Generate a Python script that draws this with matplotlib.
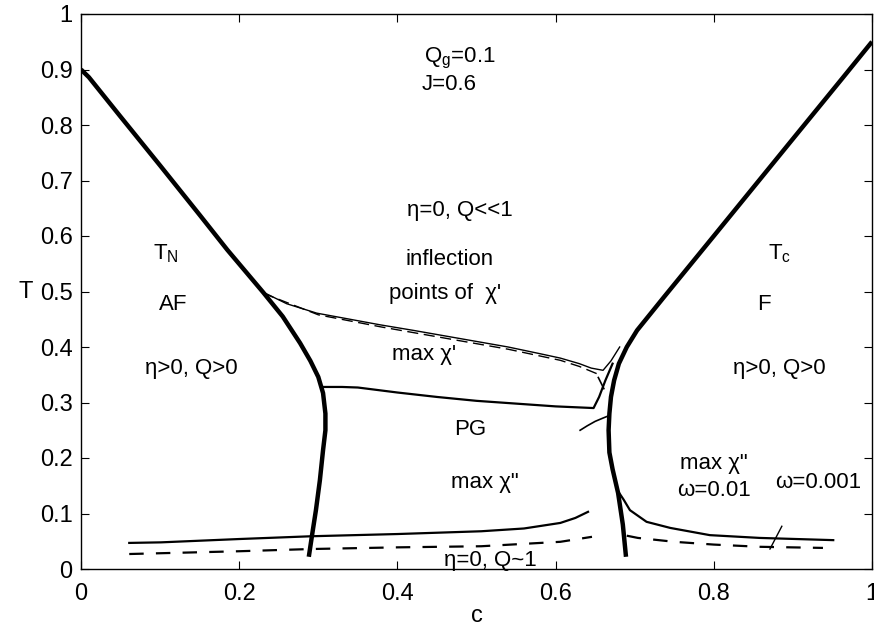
import matplotlib
matplotlib.use("Agg")
import matplotlib.pyplot as plt

plt.rcParams['font.family'] = ['Liberation Sans', 'DejaVu Sans']
plt.rcParams['mathtext.fontset'] = 'custom'
plt.rcParams['mathtext.rm'] = 'Liberation Sans'
plt.rcParams['mathtext.it'] = 'Liberation Sans'

# --- data ---
TN_c = [0.0, 0.01, 0.05, 0.10, 0.15, 0.185, 0.23, 0.255, 0.277, 0.29, 0.300, 0.306,
        0.309, 0.309, 0.306, 0.302, 0.297, 0.292, 0.288]
TN_T = [0.90, 0.886, 0.815, 0.727, 0.638, 0.575, 0.499, 0.455, 0.407, 0.375, 0.346, 0.317,
        0.28, 0.25, 0.214, 0.16, 0.106, 0.06, 0.022]

Tc_c = [0.689, 0.685, 0.679, 0.672, 0.668, 0.667, 0.668, 0.670, 0.674, 0.680, 0.690,
        0.703, 0.720, 0.737, 0.80, 0.90, 0.963, 1.0]
Tc_T = [0.022, 0.08, 0.137, 0.18, 0.21, 0.25, 0.28, 0.31, 0.34, 0.37, 0.40,
        0.43, 0.46, 0.49, 0.60, 0.775, 0.885, 0.95]

infl_c = [0.23, 0.26, 0.298, 0.34, 0.378, 0.42, 0.46, 0.50, 0.54, 0.58, 0.606, 0.63,
          0.645, 0.66, 0.67, 0.681]
infl_T = [0.499, 0.478, 0.461, 0.45, 0.44, 0.43, 0.42, 0.41, 0.40, 0.388, 0.38, 0.37,
          0.362, 0.358, 0.375, 0.40]
infl_d_c = [0.23, 0.30, 0.38, 0.46, 0.54, 0.606, 0.63, 0.652]
infl_d_T = [0.497, 0.458, 0.436, 0.416, 0.396, 0.376, 0.365, 0.352]

maxchi1_c = [0.306, 0.33, 0.35, 0.40, 0.45, 0.50, 0.55, 0.60, 0.648, 0.655, 0.663, 0.672]
maxchi1_T = [0.328, 0.328, 0.327, 0.318, 0.31, 0.303, 0.298, 0.293, 0.29, 0.31, 0.34, 0.37]
branch_c = [0.654, 0.661]
branch_T = [0.345, 0.325]
arc_c = [0.631, 0.640, 0.650, 0.660, 0.667]
arc_T = [0.25, 0.258, 0.266, 0.272, 0.276]

chi2_left_c = [0.061, 0.101, 0.2, 0.291, 0.4, 0.506, 0.56, 0.606, 0.625, 0.641]
chi2_left_T = [0.047, 0.048, 0.054, 0.059, 0.063, 0.068, 0.073, 0.083, 0.092, 0.103]
chi2_left_d_c = [0.061, 0.2, 0.291, 0.4, 0.506, 0.606, 0.646]
chi2_left_d_T = [0.027, 0.032, 0.036, 0.039, 0.041, 0.049, 0.058]

chi2_right_c = [0.679, 0.686, 0.694, 0.715, 0.745, 0.795, 0.858, 0.951]
chi2_right_T = [0.14, 0.125, 0.106, 0.085, 0.074, 0.061, 0.056, 0.052]
chi2_right_d_c = [0.69, 0.704, 0.75, 0.80, 0.858, 0.938]
chi2_right_d_T = [0.06, 0.056, 0.049, 0.044, 0.040, 0.038]

slash_c = [0.871, 0.886]
slash_T = [0.036, 0.077]

ticks = [0, 0.2, 0.4, 0.6, 0.8, 1]
tick_labels = ['0', '0.2', '0.4', '0.6', '0.8', '1']
yticks = [0, 0.1, 0.2, 0.3, 0.4, 0.5, 0.6, 0.7, 0.8, 0.9, 1]
ytick_labels = ['0', '0.1', '0.2', '0.3', '0.4', '0.5', '0.6', '0.7', '0.8', '0.9', '1']

# --- figure ---
fig = plt.figure(figsize=(8.74, 6.28), dpi=100)
ax = fig.add_axes([81/874, 1 - 569/628, (872-81)/874, (569-14)/628])

dash = (6.5, 5.5)
ax.plot(infl_c, infl_T, color='k', lw=1.0)
ax.plot(infl_d_c, infl_d_T, color='k', lw=1.0, dashes=(8, 4))
ax.plot(maxchi1_c, maxchi1_T, color='k', lw=1.6)
ax.plot(branch_c, branch_T, color='k', lw=1.2)
ax.plot(arc_c, arc_T, color='k', lw=1.2)
ax.plot(chi2_left_c, chi2_left_T, color='k', lw=1.6)
ax.plot(chi2_left_d_c, chi2_left_d_T, color='k', lw=1.6, dashes=dash)
ax.plot(chi2_right_c, chi2_right_T, color='k', lw=1.6)
ax.plot(chi2_right_d_c, chi2_right_d_T, color='k', lw=1.6, dashes=dash)
ax.plot(slash_c, slash_T, color='k', lw=1.0)
ax.plot(TN_c, TN_T, color='k', lw=3.2, solid_capstyle='butt', solid_joinstyle='round')
ax.plot(Tc_c, Tc_T, color='k', lw=3.2, solid_capstyle='butt', solid_joinstyle='round')

ax.set_xlim(0, 1)
ax.set_ylim(0, 1)
ax.set_xticks(ticks)
ax.set_xticklabels(tick_labels)
ax.set_yticks(yticks)
ax.set_yticklabels(ytick_labels)
ax.tick_params(direction='in', length=6, width=0.8, labelsize=17, top=True, right=True)
ax.tick_params(axis='x', pad=10)
ax.tick_params(axis='y', pad=6)
for s in ax.spines.values():
    s.set_linewidth(1.0)
ax.set_xlabel('c', fontsize=17, labelpad=0)
ax.set_ylabel('T', fontsize=17, rotation=0, labelpad=10, va='center')

fs = 16
def t(x, y, s, **kw):
    ax.text(x, y, s, fontsize=fs, ha='center', va='center', **kw)

t(0.479, 0.92, r'Q$_\mathrm{g}$=0.1')
t(0.466, 0.873, 'J=0.6')
t(0.479, 0.646, 'η=0, Q<<1')
t(0.107, 0.568, r'T$_\mathrm{N}$')
t(0.883, 0.568, r'T$_\mathrm{c}$')
t(0.466, 0.557, 'inflection')
t(0.46, 0.497, "points of  χ'")
t(0.116, 0.477, 'AF')
t(0.864, 0.477, 'F')
t(0.139, 0.362, 'η>0, Q>0')
t(0.883, 0.362, 'η>0, Q>0')
t(0.434, 0.387, "max χ'")
t(0.492, 0.252, 'PG')
t(0.511, 0.156, 'max χ"')
t(0.80, 0.19, 'max χ"')
t(0.80, 0.142, 'ω=0.01')
t(0.932, 0.156, 'ω=0.001')
t(0.517, 0.016, 'η=0, Q~1')

fig.savefig('out.png', dpi=100)
